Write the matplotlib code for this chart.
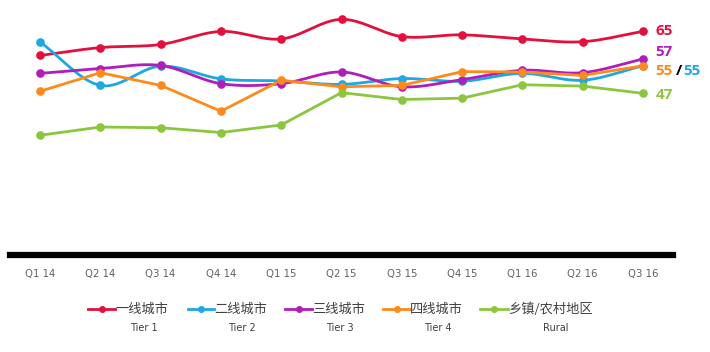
import numpy as np
import matplotlib
matplotlib.use("Agg")
import matplotlib.pyplot as plt
from matplotlib.lines import Line2D

plt.rcParams['font.family'] = ['Noto Sans CJK SC', 'DejaVu Sans']

quarters = ["Q1 14", "Q2 14", "Q3 14", "Q4 14", "Q1 15", "Q2 15",
            "Q3 15", "Q4 15", "Q1 16", "Q2 16", "Q3 16"]

tier1 = [58.0, 60.3, 61.2, 65.0, 62.8, 68.5, 63.5, 64.0, 62.8, 62.0, 65.0]
tier2 = [61.9, 49.3, 54.9, 51.2, 50.6, 49.6, 51.3, 50.5, 52.8, 50.8, 55.0]
tier3 = [52.8, 54.2, 55.1, 49.8, 49.8, 53.2, 48.9, 51.0, 53.7, 53.0, 57.0]
tier4 = [47.6, 53.0, 49.3, 41.8, 50.8, 48.9, 49.3, 53.3, 53.2, 52.2, 55.0]
rural = [34.8, 37.2, 37.0, 35.6, 37.8, 47.2, 45.2, 45.6, 49.5, 49.1, 47.0]

names_cn = ["一线城市", "二线城市", "三线城市", "四线城市", "乡镇/农村地区"]
names_en = ["Tier 1", "Tier 2", "Tier 3", "Tier 4", "Rural"]
colors = ["#E2103C", "#1EA7E0", "#B01DBB", "#FF8A1C", "#8CC63F"]
series = [tier1, tier2, tier3, tier4, rural]
smooth = [True, True, True, False, False]


def catmull(x, y, n=20):
    x = np.asarray(x, float); y = np.asarray(y, float)
    px = np.concatenate([[2 * x[0] - x[1]], x, [2 * x[-1] - x[-2]]])
    py = np.concatenate([[2 * y[0] - y[1]], y, [2 * y[-1] - y[-2]]])
    xs, ys = [], []
    for i in range(1, len(px) - 2):
        t = np.linspace(0, 1, n, endpoint=False)
        for P, out in ((px, xs), (py, ys)):
            p0, p1, p2, p3 = P[i - 1], P[i], P[i + 1], P[i + 2]
            out.extend(0.5 * ((2 * p1) + (-p0 + p2) * t +
                              (2 * p0 - 5 * p1 + 4 * p2 - p3) * t ** 2 +
                              (-p0 + 3 * p1 - 3 * p2 + p3) * t ** 3))
    xs.append(x[-1]); ys.append(y[-1])
    return np.array(xs), np.array(ys)


W, H = 710, 352
fig = plt.figure(figsize=(W / 100, H / 100), dpi=100)
px_per_unit = 3.44
top_px, base_px = 9, 255
ax = fig.add_axes([10 / W, 1 - base_px / H, 663 / W, (base_px - top_px) / H])
x = np.arange(len(quarters))

for s, c, sm in zip(series, colors, smooth):
    if sm:
        xs, ys = catmull(x, s)
        ax.plot(xs, ys, color=c, lw=2.0, solid_capstyle='round', zorder=3)
    else:
        ax.plot(x, s, color=c, lw=2.0, zorder=3)
    ax.plot(x, s, 'o', color=c, ms=5.2, zorder=4)

ax.set_xlim(-0.5, len(quarters) - 0.5)
ax.set_ylim(0, (base_px - top_px) / px_per_unit)
for sp in ['top', 'right', 'left']:
    ax.spines[sp].set_visible(False)
ax.spines['bottom'].set_linewidth(4.5)
ax.spines['bottom'].set_color('black')
ax.set_yticks([])
ax.set_xticks(x)
ax.set_xticklabels(quarters, fontsize=7.3, color='#606060', family=['DejaVu Sans'])
ax.tick_params(axis='x', length=0, pad=10)

# end labels
lab_fs = 11
fam = ['Open Sans']
ax.annotate("65", (x[-1], tier1[-1]), xytext=(9, 0), textcoords='offset points',
            color=colors[0], fontsize=lab_fs, fontweight='bold', va='center', ha='left',
            family=fam)
ax.annotate("57", (x[-1], tier3[-1]), xytext=(9, 5), textcoords='offset points',
            color=colors[2], fontsize=lab_fs, fontweight='bold', va='center', ha='left',
            family=fam)
ax.annotate("55", (x[-1], tier4[-1]), xytext=(9, -4), textcoords='offset points',
            color=colors[3], fontsize=lab_fs, fontweight='bold', va='center', ha='left',
            family=fam)
ax.annotate("/", (x[-1], tier4[-1]), xytext=(24, -4), textcoords='offset points',
            color='black', fontsize=lab_fs, fontweight='bold', va='center', ha='left',
            family=fam)
ax.annotate("55", (x[-1], tier2[-1]), xytext=(29, -4), textcoords='offset points',
            color=colors[1], fontsize=lab_fs, fontweight='bold', va='center', ha='left',
            family=fam)
ax.annotate("47", (x[-1], rural[-1]), xytext=(9, -1), textcoords='offset points',
            color=colors[4], fontsize=lab_fs, fontweight='bold', va='center', ha='left',
            family=fam)

# manual legend
handle_x = [(88, 115), (188, 214), (285, 312), (383, 410), (480, 508)]
text_x = [115, 214, 312, 410, 508]
en_x = [144, 242, 340, 438, 556]
ly, ey = 309, 328
for (a, b), tx, ex, c, cn, en in zip(handle_x, text_x, en_x, colors, names_cn, names_en):
    fig.add_artist(Line2D([a / W, b / W], [1 - ly / H, 1 - ly / H], color=c, lw=2,
                          transform=fig.transFigure))
    fig.add_artist(Line2D([(a + b) / 2 / W], [1 - ly / H], marker='o', ms=4, color=c,
                          transform=fig.transFigure))
    fig.text(tx / W, 1 - ly / H, cn, fontsize=9.5, color='#404040', ha='left', va='center')
    fig.text(ex / W, 1 - ey / H, en, fontsize=7, color='#404040', ha='center', va='center',
             family=['DejaVu Sans'])

fig.savefig("out.png", dpi=100)
